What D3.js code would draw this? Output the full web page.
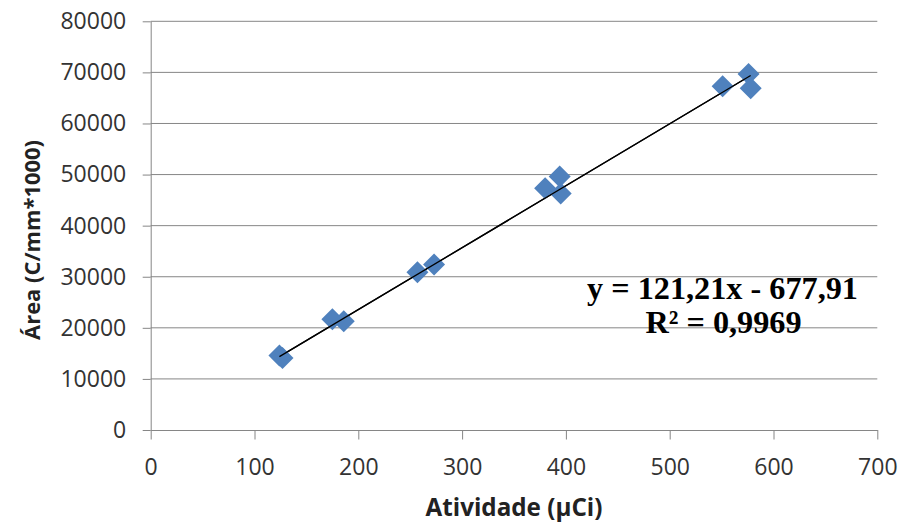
<!DOCTYPE html>
<html><head><meta charset="utf-8">
<script src="https://cdn.jsdelivr.net/npm/d3@7"></script>
<style>
html,body{margin:0;padding:0;background:#fff;}
svg{display:block;}
</style></head>
<body>
<svg id="chart" width="899" height="524"></svg>
<script>
// ---- data ----
const atividade = [124, 127, 175, 186, 257, 273, 380, 394, 395, 551, 576, 578];
const area      = [14600, 14100, 21700, 21300, 30900, 32400, 47300, 49600, 46300, 67300, 69700, 66900];
const xTicks = [0, 100, 200, 300, 400, 500, 600, 700];
const yTicks = [0, 10000, 20000, 30000, 40000, 50000, 60000, 70000, 80000];
const slope = 121.21, intercept = -677.91;
const eqLines = ["y = 121,21x - 677,91", "R² = 0,9969"];
const xTitle = "Atividade (µCi)";
const yTitle = "Área (C/mm*1000)";

// ---- layout ----
const svg = d3.select("#chart");
const L = 150.7, R = 877.3, T = 21.3, B = 430;
const x = d3.scaleLinear().domain([0, 700]).range([L, R]);
const y = d3.scaleLinear().domain([0, 80000]).range([B, T]);
const grid = "#868686";
const sans = "'Open Sans', sans-serif";

function fitWidth(sel, w) {
  const len = sel.node().getComputedTextLength();
  const fs = parseFloat(sel.attr("font-size"));
  sel.attr("font-size", fs * w / len);
}

// gridlines
svg.append("g").selectAll("line").data(yTicks.slice(1)).join("line")
  .attr("x1", L).attr("x2", R).attr("y1", d => y(d)).attr("y2", d => y(d))
  .attr("stroke", grid).attr("stroke-width", 1);

// y axis
const ya = svg.append("g").attr("transform", `translate(${L},0)`)
  .call(d3.axisLeft(y).tickValues(yTicks).tickSize(8).tickPadding(16.5).tickSizeOuter(0).tickFormat(d3.format("d")));
ya.selectAll("path.domain").attr("stroke", grid);
ya.selectAll(".tick line").attr("stroke", grid);
ya.selectAll("text").attr("font-family", sans).attr("font-size", 23).attr("fill", "#333");

// x axis
const xa = svg.append("g").attr("transform", `translate(0,${B})`)
  .call(d3.axisBottom(x).tickValues(xTicks).tickSize(9.5).tickPadding(19).tickSizeOuter(0).tickFormat(d3.format("d")));
xa.selectAll("path.domain").attr("stroke", grid);
xa.selectAll(".tick line").attr("stroke", grid);
xa.selectAll("text").attr("font-family", sans).attr("font-size", 23).attr("fill", "#333");

// trend line
const xmin = d3.min(atividade), xmax = d3.max(atividade);
svg.append("line")
  .attr("x1", x(xmin)).attr("y1", y(slope * xmin + intercept))
  .attr("x2", x(xmax)).attr("y2", y(slope * xmax + intercept))
  .attr("stroke", "#000").attr("stroke-width", 1.3);

// diamonds
const h = 11;
svg.append("g").selectAll("path").data(atividade.map((v, i) => [v, area[i]])).join("path")
  .attr("d", d => {
    const cx = x(d[0]), cy = y(d[1]);
    return `M${cx},${cy - h}L${cx + h},${cy}L${cx},${cy + h}L${cx - h},${cy}Z`;
  })
  .attr("fill", "#4F81BD");

// redraw trend line on top of markers
svg.append("line")
  .attr("x1", x(xmin)).attr("y1", y(slope * xmin + intercept))
  .attr("x2", x(xmax)).attr("y2", y(slope * xmax + intercept))
  .attr("stroke", "#000").attr("stroke-width", 1.3);

// equation
const eq1 = svg.append("text").attr("x", 722.5).attr("y", 299).attr("text-anchor", "middle")
  .attr("font-family", "'Liberation Serif', 'Times New Roman', serif").attr("font-weight", "bold")
  .attr("font-size", 30).attr("fill", "#000").text(eqLines[0]);
fitWidth(eq1, 271);
const eq2 = svg.append("text").attr("x", 723.5).attr("y", 333).attr("text-anchor", "middle")
  .attr("font-family", "'Liberation Serif', 'Times New Roman', serif").attr("font-weight", "bold")
  .attr("font-size", eq1.attr("font-size")).attr("fill", "#000").text(eqLines[1]);

// axis titles
const xt = svg.append("text").attr("x", (L + R) / 2).attr("y", 516).attr("text-anchor", "middle")
  .attr("font-family", sans).attr("font-weight", "bold").attr("font-size", 20).attr("fill", "#222")
  .text(xTitle);
fitWidth(xt, 177);
const yt = svg.append("text").attr("transform", "translate(39.5,240) rotate(-90)").attr("text-anchor", "middle")
  .attr("font-family", sans).attr("font-weight", "bold").attr("font-size", 20).attr("fill", "#222")
  .text(yTitle);
fitWidth(yt, 200);
</script>
</body></html>
